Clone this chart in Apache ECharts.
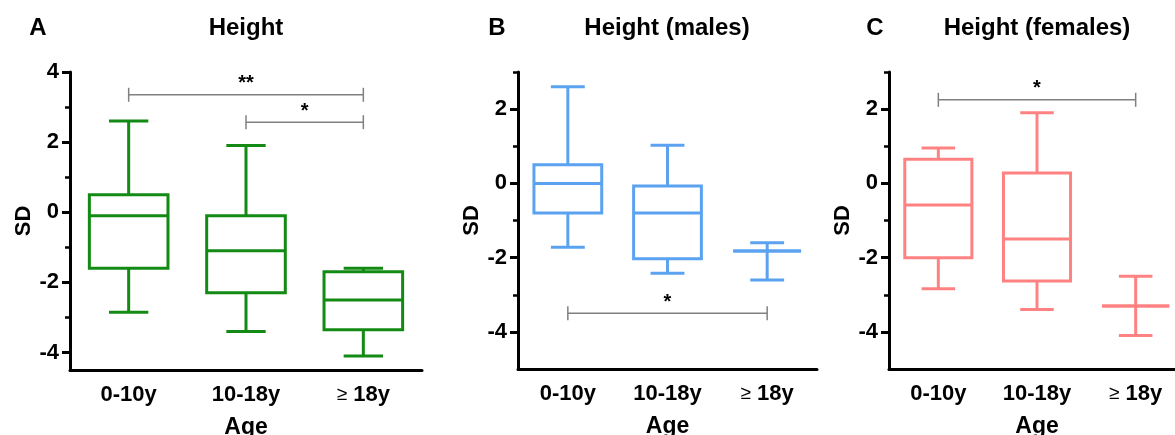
<!DOCTYPE html>
<html>
<head>
<meta charset="utf-8">
<script src="https://cdn.jsdelivr.net/npm/echarts@6/dist/echarts.min.js"></script>
<style>
  html, body { margin: 0; padding: 0; background: #fff; overflow: hidden; }
  #chart { width: 1175px; height: 435px; }
</style>
</head>
<body>
<div id="chart"></div>
<script>
var categories = ['0-10y', '10-18y', '≥ 18y'];

// each box: [min, Q1, median, Q3, max]
var heightAll = [
    [-2.85, -1.6, -0.1, 0.5, 2.6],
    [-3.4, -2.3, -1.1, -0.1, 1.9],
    [-4.1, -3.35, -2.5, -1.7, -1.6]
];
var heightMales = [
    [-1.72, -0.8, 0, 0.5, 2.6],
    [-2.42, -2.03, -0.8, -0.07, 1.03],
    [-2.6, -1.82, -1.82, -1.82, -1.6]
];
var heightFemales = [
    [-2.84, -2.0, -0.58, 0.65, 0.95],
    [-3.4, -2.63, -1.5, 0.28, 1.9],
    [-4.1, -3.3, -3.3, -3.3, -2.5]
];

// significance brackets: [from category, to category, level]
var sigAll = [[0, 2, 3.35], [1, 2, 2.57]];
var sigAllLabels = ['**', '*'];
var sigMales = [[0, 2, -3.5]];
var sigMalesLabels = ['*'];
var sigFemales = [[0, 2, 2.25]];
var sigFemalesLabels = ['*'];

var majorTicksA = [-4, -2, 0, 2, 4];
var minorTicksA = [-3, -1, 1, 3];
var majorTicksBC = [-4, -2, 0, 2];
var minorTicksBC = [-3, -1, 1, 3];

var FONT = '"Liberation Sans", Arial, sans-serif';

var chart = echarts.init(document.getElementById('chart'));

function boxRenderer(color, boxFrac) {
    return function (params, api) {
        var c = api.value(0);
        var lo = api.coord([c, api.value(1)]);
        var q1 = api.coord([c, api.value(2)]);
        var md = api.coord([c, api.value(3)]);
        var q3 = api.coord([c, api.value(4)]);
        var hi = api.coord([c, api.value(5)]);
        var band = api.size([1, 0])[0];
        var hw = band * boxFrac / 2;
        var cw = hw / 2;
        var x = lo[0];
        var st = { stroke: color, lineWidth: 3, fill: null };
        return {
            type: 'group',
            children: [
                { type: 'rect', shape: { x: x - hw, y: q3[1], width: 2 * hw, height: q1[1] - q3[1] }, style: st },
                { type: 'line', shape: { x1: x - hw, y1: md[1], x2: x + hw, y2: md[1] }, style: st },
                { type: 'line', shape: { x1: x, y1: q3[1], x2: x, y2: hi[1] }, style: st },
                { type: 'line', shape: { x1: x, y1: q1[1], x2: x, y2: lo[1] }, style: st },
                { type: 'line', shape: { x1: x - cw, y1: hi[1], x2: x + cw, y2: hi[1] }, style: st },
                { type: 'line', shape: { x1: x - cw, y1: lo[1], x2: x + cw, y2: lo[1] }, style: st }
            ]
        };
    };
}

function sigRenderer(labels) {
    return function (params, api) {
        var a = api.coord([api.value(0), api.value(2)]);
        var b = api.coord([api.value(1), api.value(2)]);
        var st = { stroke: '#808080', lineWidth: 1.5 };
        return {
            type: 'group',
            children: [
                { type: 'line', shape: { x1: a[0], y1: a[1], x2: b[0], y2: b[1] }, style: st },
                { type: 'line', shape: { x1: a[0], y1: a[1] - 7, x2: a[0], y2: a[1] + 7 }, style: st },
                { type: 'line', shape: { x1: b[0], y1: b[1] - 7, x2: b[0], y2: b[1] + 7 }, style: st },
                {
                    type: 'text',
                    style: {
                        text: labels[params.dataIndex],
                        x: (a[0] + b[0]) / 2, y: a[1] - 21,
                        textAlign: 'center', textVerticalAlign: 'top',
                        font: 'bold 20px ' + FONT, fill: '#000'
                    }
                }
            ]
        };
    };
}

var panels = [
    { box: heightAll, sig: sigAll, sigLabels: sigAllLabels, color: '#138a13', min: -4.5, max: 4,
      major: majorTicksA, minor: minorTicksA, grid: { left: 70, top: 72, width: 352, height: 298 }, frac: 0.67 },
    { box: heightMales, sig: sigMales, sigLabels: sigMalesLabels, color: '#5ba3f0', min: -5, max: 3,
      major: majorTicksBC, minor: minorTicksBC, grid: { left: 518, top: 72, width: 299, height: 297 }, frac: 0.68 },
    { box: heightFemales, sig: sigFemales, sigLabels: sigFemalesLabels, color: '#ff8282', min: -5, max: 3,
      major: majorTicksBC, minor: minorTicksBC, grid: { left: 889, top: 72, width: 296, height: 297 }, frac: 0.68 }
];

var grids = [], xAxes = [], yAxes = [], series = [];

panels.forEach(function (p, i) {
    p.grid.containLabel = false;
    p.grid.outerBoundsMode = 'none';
    grids.push(p.grid);
    xAxes.push({
        type: 'category',
        gridIndex: i,
        data: categories,
        boundaryGap: true,
        name: 'Age',
        nameLocation: 'middle',
        nameGap: 46,
        nameTextStyle: { fontFamily: FONT, fontWeight: 'bold', fontSize: 23, color: '#000' },
        axisLine: { onZero: false, lineStyle: { color: '#000', width: 3 } },
        axisTick: { alignWithLabel: true, interval: 0, length: 8, lineStyle: { color: '#000', width: 3 } },
        axisLabel: {
            interval: 0, margin: 14, fontFamily: FONT, fontWeight: 'bold', fontSize: 22, color: '#000',
            formatter: function (v) {
                return v.charAt(0) === '≥' ? '{g|≥}' + v.slice(1) : v;
            },
            rich: { g: { fontFamily: FONT, fontWeight: 'normal', fontSize: 19, color: '#000' } }
        },
        splitLine: { show: false }
    });
    yAxes.push({
        type: 'value',
        gridIndex: i,
        position: 'left',
        min: p.min,
        max: p.max,
        name: 'SD',
        nameLocation: 'middle',
        nameGap: 35,
        nameTextStyle: { fontFamily: FONT, fontWeight: 'bold', fontSize: 22, color: '#000' },
        axisLine: { show: true, lineStyle: { color: '#000', width: 3 } },
        axisTick: { show: true, length: 8, customValues: p.major, lineStyle: { color: '#000', width: 3 } },
        axisLabel: { customValues: p.major, margin: 11, fontFamily: FONT, fontWeight: 'bold', fontSize: 22, color: '#000' },
        splitLine: { show: false }
    });
    yAxes.push({
        type: 'value',
        gridIndex: i,
        position: 'left',
        min: p.min,
        max: p.max,
        axisLine: { show: false },
        axisTick: { show: true, length: 5, customValues: p.minor, lineStyle: { color: '#000', width: 2.5 } },
        axisLabel: { show: false },
        splitLine: { show: false }
    });
    series.push({
        type: 'custom',
        xAxisIndex: i,
        yAxisIndex: 2 * i,
        renderItem: boxRenderer(p.color, p.frac),
        encode: { x: 0, y: [1, 2, 3, 4, 5] },
        data: p.box.map(function (d, k) { return [k].concat(d); }),
        clip: false,
        silent: true
    });
    series.push({
        type: 'custom',
        xAxisIndex: i,
        yAxisIndex: 2 * i,
        renderItem: sigRenderer(p.sigLabels),
        encode: { x: [0, 1], y: 2 },
        data: p.sig,
        clip: false,
        silent: true
    });
});

function headText(txt, x, y) {
    return {
        type: 'text', x: x, y: y,
        style: { text: txt, font: 'bold 24px ' + FONT, textAlign: 'center', textVerticalAlign: 'middle', fill: '#000' }
    };
}

var option = {
    animation: false,
    backgroundColor: '#fff',
    grid: grids,
    xAxis: xAxes,
    yAxis: yAxes,
    series: series,
    graphic: [
        headText('A', 38, 28),
        headText('Height', 246, 28),
        headText('B', 497, 28),
        headText('Height (males)', 667, 28),
        headText('C', 875, 28),
        headText('Height (females)', 1037, 28)
    ]
};

chart.setOption(option);
</script>
</body>
</html>
